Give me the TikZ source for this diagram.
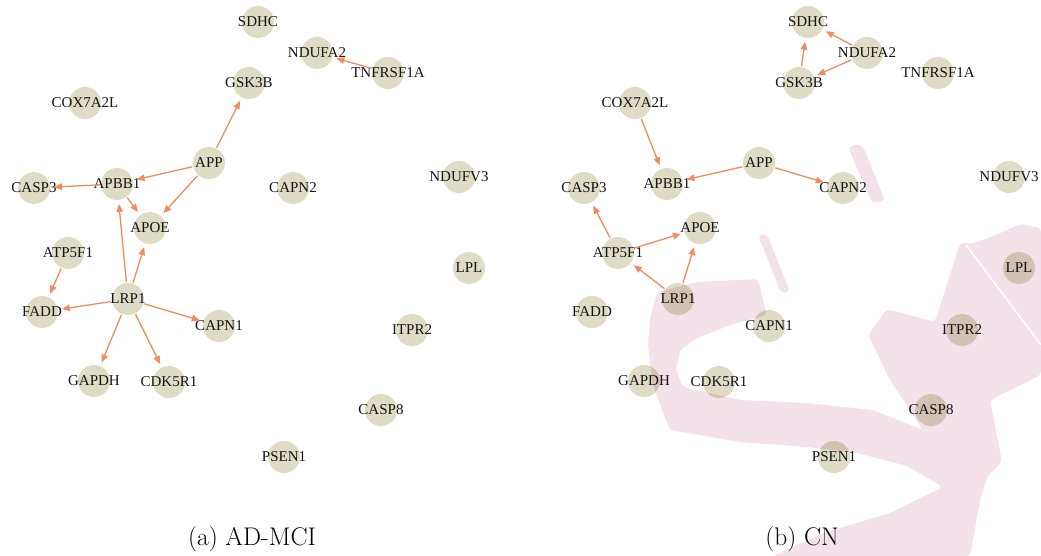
\documentclass[tikz,border=0pt]{standalone}
\usepackage{fontspec}
\newfontfamily\genefont{Liberation Serif}
\usetikzlibrary{arrows.meta}
\definecolor{genefill}{RGB}{222,220,196}
\definecolor{edgecol}{RGB}{241,140,92}
\definecolor{wmark}{RGB}{243,226,233}
\tikzset{
  gene/.style={circle,fill=genefill,minimum size=32pt,inner sep=0pt,outer sep=0pt},
  genetext/.style={font=\genefont\fontsize{15}{15}\selectfont,text=black!92,inner sep=0pt},
  rel/.style={draw=edgecol,line width=1.3pt,-{Triangle[length=8pt,width=6.5pt]},shorten >=4pt,shorten <=1pt},
  caption/.style={font=\fontsize{25.5}{30}\selectfont,inner sep=0pt},
  wm/.style={fill=wmark,rounded corners=4pt},
  wmgap/.style={draw=white,line width=1.5pt}
}
\newcommand\placegenes[1]{%
  \node[gene,label={[genetext]center:SDHC}] (#1SDHC) at (258,22) {};
  \node[gene,label={[genetext]center:NDUFA2}] (#1NDUFA2) at (317,53) {};
  \node[gene,label={[genetext]center:TNFRSF1A}] (#1TNFRSF1A) at (388,73) {};
  \node[gene,label={[genetext]center:GSK3B}] (#1GSK3B) at (249,83) {};
  \node[gene,label={[genetext]center:COX7A2L}] (#1COX7A2L) at (85,103) {};
  \node[gene,label={[genetext]center:APP}] (#1APP) at (209,163) {};
  \node[gene,label={[genetext]center:APBB1}] (#1APBB1) at (117,184) {};
  \node[gene,label={[genetext]center:CASP3}] (#1CASP3) at (34,188) {};
  \node[gene,label={[genetext]center:CAPN2}] (#1CAPN2) at (293,188) {};
  \node[gene,label={[genetext]center:NDUFV3}] (#1NDUFV3) at (459,177) {};
  \node[gene,label={[genetext]center:APOE}] (#1APOE) at (150,228) {};
  \node[gene,label={[genetext]center:ATP5F1}] (#1ATP5F1) at (68,253) {};
  \node[gene,label={[genetext]center:LPL}] (#1LPL) at (469,268) {};
  \node[gene,label={[genetext]center:LRP1}] (#1LRP1) at (128,299) {};
  \node[gene,label={[genetext]center:FADD}] (#1FADD) at (42,312) {};
  \node[gene,label={[genetext]center:CAPN1}] (#1CAPN1) at (219,326) {};
  \node[gene,label={[genetext]center:ITPR2}] (#1ITPR2) at (412,330) {};
  \node[gene,label={[genetext]center:GAPDH}] (#1GAPDH) at (94,381) {};
  \node[gene,label={[genetext]center:CDK5R1}] (#1CDK5R1) at (169,382) {};
  \node[gene,label={[genetext]center:CASP8}] (#1CASP8) at (381,410) {};
  \node[gene,label={[genetext]center:PSEN1}] (#1PSEN1) at (284,457) {};
}
\begin{document}
\begin{tikzpicture}[x=1pt,y=-1pt]
\useasboundingbox (0,0) rectangle (1041,556);
% (a) AD-MCI
\begin{scope}
  \placegenes{L}
  \draw[rel] (LTNFRSF1A) -- (LNDUFA2);
  \draw[rel] (LAPP) -- (LGSK3B);
  \draw[rel] (LAPP) -- (LAPBB1);
  \draw[rel] (LAPP) -- (LAPOE);
  \draw[rel] (LAPBB1) -- (LCASP3);
  \draw[rel] (LAPBB1) -- (LAPOE);
  \draw[rel] (LLRP1) -- (LAPBB1);
  \draw[rel] (LLRP1) -- (LAPOE);
  \draw[rel] (LATP5F1) -- (LFADD);
  \draw[rel] (LLRP1) -- (LFADD);
  \draw[rel] (LLRP1) -- (LCAPN1);
  \draw[rel] (LLRP1) -- (LGAPDH);
  \draw[rel] (LLRP1) -- (LCDK5R1);
  \node[caption] (capa) at (252,539) {(a)\ AD-MCI};
\end{scope}
% (b) CN
\begin{scope}[xshift=550pt]
  \placegenes{R}
  \draw[rel] (RNDUFA2) -- (RSDHC);
  \draw[rel] (RNDUFA2) -- (RGSK3B);
  \draw[rel] (RGSK3B) -- (RSDHC);
  \draw[rel] (RCOX7A2L) -- (RAPBB1);
  \draw[rel] (RAPP) -- (RAPBB1);
  \draw[rel] (RAPP) -- (RCAPN2);
  \draw[rel] (RATP5F1) -- (RCASP3);
  \draw[rel] (RATP5F1) -- (RAPOE);
  \draw[rel] (RLRP1) -- (RATP5F1);
  \draw[rel] (RLRP1) -- (RAPOE);
  \node[caption] (capb) at (252,539) {(b)\ CN};
\end{scope}
% watermark
\begin{scope}[blend mode=multiply]
  \fill[wm] (848,147) -- (858,144) -- (864,148) -- (885,201) -- (872,203) -- cycle;
  \fill[wm] (758,235) -- (767,234) -- (790,292) -- (781,293) -- cycle;
  \fill[wm] (758,279) -- (697,282) -- (657,292) -- (650,318) -- (648,345) -- (653,385)
    -- (662,410) -- (670,430) -- (740,442) -- (807,447) -- (857,453) -- (907,466)
    -- (943,487) -- (890,513) -- (823,533) -- (773,556) -- (970,556) -- (973,540)
    -- (980,500) -- (987,477) -- (1002,462) -- (990,400) -- (1041,375) -- (1041,228)
    -- (1020,224) -- (1003,232) -- (975,243) -- (960,243) -- (935,322) -- (887,309)
    -- (868,335) -- (890,380) -- (923,430) -- (873,410) -- (807,403) -- (740,400)
    -- (683,387) -- (676,370) -- (680,350) -- (697,338) -- (730,325) -- (767,315) -- cycle;
\end{scope}
\draw[wmgap] (966,245) -- (1041,345);
\end{tikzpicture}
\end{document}
